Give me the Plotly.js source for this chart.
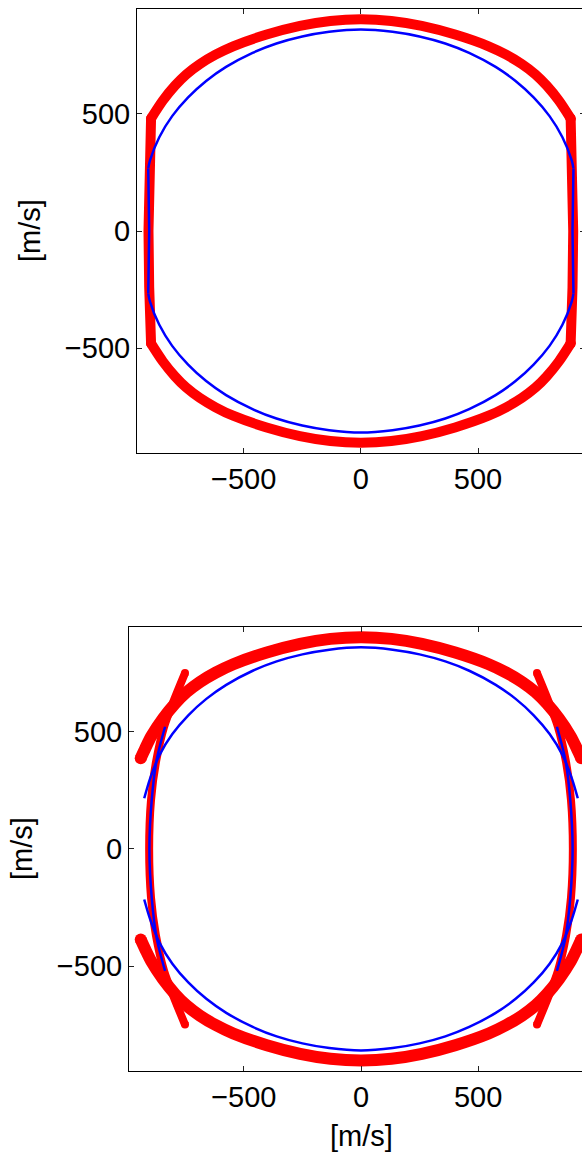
<!DOCTYPE html>
<html>
<head>
<meta charset="utf-8">
<script src="https://cdn.plot.ly/plotly-3.0.1.min.js"></script>
<style>
  html, body { margin: 0; padding: 0; background: #fff; overflow: hidden; }
  #chart { width: 600px; height: 1153px; }
</style>
</head>
<body>
<div id="chart"></div>
<script>
'use strict';

// ---- top panel ----
// red: upper/lower arcs + near-vertical sides
const topRedArcX = [895, 845, 793, 745, 687, 620, 545, 402, 260, 130, 0,
    -130, -260, -402, -545, -620, -687, -745, -793, -845, -895];
const topRedArcUpY = [480, 556, 620, 668, 712, 752, 788, 838, 875, 896, 903,
    896, 875, 838, 788, 752, 712, 668, 620, 556, 480];
const topRedArcLoY = [-480, -556, -620, -668, -712, -752, -788, -838, -875, -896, -903,
    -896, -875, -838, -788, -752, -712, -668, -620, -556, -480];
const topRedSideRX = [895, 900, 903, 906, 903, 900, 895];
const topRedSideLX = [-895, -900, -903, -906, -903, -900, -895];
const topRedSideY = [480, 360, 240, 0, -240, -360, -480];

// blue: arcs + short vertical sides
const topBlueArcX = [907, 900, 860, 805, 737, 660, 575, 462, 360, 250, 135, 0,
    -135, -250, -360, -462, -575, -660, -737, -805, -860, -900, -907];
const topBlueArcUpY = [267, 300, 400, 490, 570, 640, 700, 760, 800, 830, 850, 860,
    850, 830, 800, 760, 700, 640, 570, 490, 400, 300, 267];
const topBlueArcLoY = [-267, -300, -400, -490, -570, -640, -700, -760, -800, -830, -850, -860,
    -850, -830, -800, -760, -700, -640, -570, -490, -400, -300, -267];
const topBlueSideRX = [907, 903, 907];
const topBlueSideLX = [-907, -903, -907];
const topBlueSideY = [267, 0, -267];

// ---- bottom panel ----
const botRedArcX = [940, 920, 895, 845, 793, 745, 687, 620, 545, 402, 260, 130, 0,
    -130, -260, -402, -545, -620, -687, -745, -793, -845, -895, -920, -940];
const botRedArcUpY = [387, 430, 480, 556, 620, 668, 712, 752, 788, 838, 875, 896, 903,
    896, 875, 838, 788, 752, 712, 668, 620, 556, 480, 430, 387];
const botRedArcLoY = [-387, -430, -480, -556, -620, -668, -712, -752, -788, -838, -875, -896, -903,
    -896, -875, -838, -788, -752, -712, -668, -620, -556, -480, -430, -387];

const botRedCuspRX = [751, 800, 840, 875, 896, 904, 896, 875, 840, 800, 751];
const botRedCuspLX = [-751, -800, -840, -875, -896, -904, -896, -875, -840, -800, -751];
const botRedCuspY = [750, 630, 522, 370, 209, 0, -209, -370, -522, -630, -750];

const botBlueArcX = [925, 900, 860, 805, 737, 660, 575, 462, 360, 250, 135, 0,
    -135, -250, -360, -462, -575, -660, -737, -805, -860, -900, -925];
const botBlueArcUpY = [216, 300, 400, 490, 570, 640, 700, 760, 800, 830, 850, 860,
    850, 830, 800, 760, 700, 640, 570, 490, 400, 300, 216];
const botBlueArcLoY = [-216, -300, -400, -490, -570, -640, -700, -760, -800, -830, -850, -860,
    -850, -830, -800, -760, -700, -640, -570, -490, -400, -300, -216];

const botBlueCuspRX = [836, 872, 893, 903, 893, 872, 836];
const botBlueCuspLX = [-836, -872, -893, -903, -893, -872, -836];
const botBlueCuspY = [521, 380, 209, 0, -209, -380, -521];

const tickVals = [-500, 0, 500];
const unitLabel = '[m/s]';

const W = 600, H = 1153;
const RED = '#ff0000', BLUE = '#0000ff';
const FONT = 'Liberation Sans, Arial, Helvetica, sans-serif';

// round caps: a dot only on the two end points
function capSizes(n, w) {
    const s = new Array(n).fill(0);
    s[0] = w; s[n - 1] = w;
    return s;
}

function redTrace(x, y, xa, ya, w, shape) {
    return {
        x, y, xaxis: xa, yaxis: ya, type: 'scatter', mode: 'lines+markers',
        line: { color: RED, width: w, shape: shape || 'spline', smoothing: 0.8 },
        marker: { color: RED, opacity: 1, size: capSizes(x.length, w), line: { width: 0 } },
        hoverinfo: 'skip', showlegend: false,
    };
}

function blueTrace(x, y, xa, ya, shape) {
    return {
        x, y, xaxis: xa, yaxis: ya, type: 'scatter', mode: 'lines',
        line: { color: BLUE, width: 2.5, shape: shape || 'spline', smoothing: 0.8 },
        hoverinfo: 'skip', showlegend: false,
    };
}

function axisStyle(range, domain, anchor) {
    return {
        range, domain, anchor,
        tickvals: tickVals,
        ticks: 'inside', ticklen: 5, tickwidth: 1, tickcolor: '#222',
        showline: true, linecolor: '#000', linewidth: 1, mirror: 'ticks',
        showgrid: false, zeroline: false,
        tickfont: { family: FONT, size: 29, color: '#000' },
        fixedrange: true,
    };
}

const traces = [
    redTrace(topRedArcX, topRedArcUpY, 'x', 'y', 10),
    redTrace(topRedArcX, topRedArcLoY, 'x', 'y', 10),
    redTrace(topRedSideRX, topRedSideY, 'x', 'y', 10, 'linear'),
    redTrace(topRedSideLX, topRedSideY, 'x', 'y', 10, 'linear'),
    blueTrace(topBlueArcX, topBlueArcUpY, 'x', 'y'),
    blueTrace(topBlueArcX, topBlueArcLoY, 'x', 'y'),
    blueTrace(topBlueSideRX, topBlueSideY, 'x', 'y', 'linear'),
    blueTrace(topBlueSideLX, topBlueSideY, 'x', 'y', 'linear'),

    redTrace(botRedArcX, botRedArcUpY, 'x2', 'y2', 12),
    redTrace(botRedArcX, botRedArcLoY, 'x2', 'y2', 12),
    redTrace(botRedCuspRX, botRedCuspY, 'x2', 'y2', 8),
    redTrace(botRedCuspLX, botRedCuspY, 'x2', 'y2', 8),
    blueTrace(botBlueArcX, botBlueArcUpY, 'x2', 'y2'),
    blueTrace(botBlueArcX, botBlueArcLoY, 'x2', 'y2'),
    blueTrace(botBlueCuspRX, botBlueCuspY, 'x2', 'y2'),
    blueTrace(botBlueCuspLX, botBlueCuspY, 'x2', 'y2'),
];

function titleNote(text, px, py, angle) {
    return {
        text, xref: 'paper', yref: 'paper', x: px / W, y: 1 - py / H,
        xanchor: 'center', yanchor: 'middle', showarrow: false, textangle: angle,
        font: { family: FONT, size: 29, color: '#000' },
    };
}

const layout = {
    width: W, height: H,
    margin: { l: 0, r: 0, t: 0, b: 0 },
    paper_bgcolor: '#fff', plot_bgcolor: '#fff',
    showlegend: false,
    xaxis: axisStyle([-955, 955], [137 / W, 584.7 / W], 'y'),
    yaxis: axisStyle([-947, 947], [1 - 453 / H, 1 - 9 / H], 'x'),
    xaxis2: axisStyle([-990, 990], [129 / W, 593 / W], 'y2'),
    yaxis2: axisStyle([-948, 948], [1 - 1071 / H, 1 - 626.7 / H], 'x2'),
    annotations: [
        titleNote(unitLabel, 30, 231, -90),
        titleNote(unitLabel, 22, 849, -90),
        titleNote(unitLabel, 361, 1136, 0),
    ],
};

Plotly.newPlot('chart', traces, layout, { staticPlot: true, displayModeBar: false });
</script>
</body>
</html>
